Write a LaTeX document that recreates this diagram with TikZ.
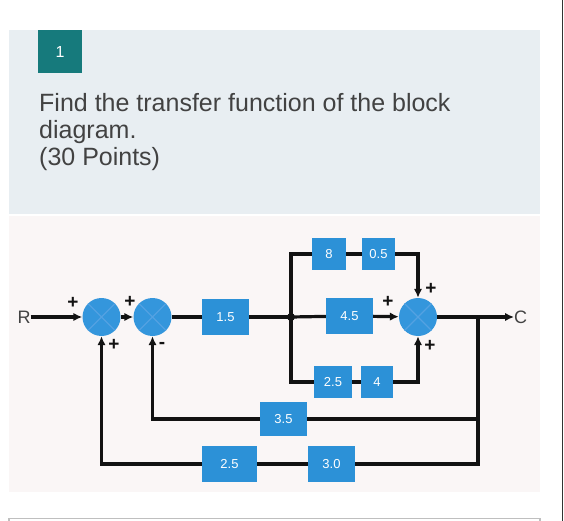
\documentclass[tikz,border=0pt]{standalone}
\usepackage{fontspec}
\setmainfont{Liberation Sans}
\usetikzlibrary{arrows.meta}
\definecolor{cardtop}{RGB}{232,238,242}
\definecolor{cardlow}{RGB}{250,246,246}
\definecolor{badgeteal}{RGB}{22,122,124}
\definecolor{blkblue}{RGB}{44,145,215}
\definecolor{sumblue}{RGB}{52,150,220}
\definecolor{xline}{RGB}{84,162,226}
\definecolor{txtgray}{RGB}{66,66,66}
\definecolor{wirecol}{RGB}{18,18,18}
\begin{document}
\begin{tikzpicture}[x=1pt,y=-1pt,>={Latex[length=9pt,width=8.5pt]},
  blk/.style={fill=blkblue,text=white,inner sep=0,font=\fontsize{13}{13}\selectfont},
  sum/.style={circle,fill=sumblue,minimum size=38pt,inner sep=0,
    path picture={\draw[xline,line width=1.4pt]
      (path picture bounding box.north west)--(path picture bounding box.south east)
      (path picture bounding box.north east)--(path picture bounding box.south west);}},
  wire/.style={line width=3.2pt,draw=wirecol},
  sgn/.style={font=\bfseries\fontsize{19}{19}\selectfont,inner sep=0,text=wirecol},
  lbl/.style={font=\fontsize{18}{18}\selectfont,inner sep=0,text=txtgray}]
\useasboundingbox (0,0) rectangle (564,521);
\fill[white] (0,0) rectangle (564,521);
\fill[cardtop] (9,30) rectangle (540,214);
\fill[cardlow] (9,216) rectangle (540,492);
\draw[black!25,line width=1.5pt] (9,521) -- (9,518.5) -- (540,518.5) -- (540,521);
\draw[black!80,line width=1.5pt] (562.5,0) -- (562.5,521);
\node[fill=badgeteal,text=white,minimum width=44pt,minimum height=43pt,inner sep=0,
  font=\fontsize{16}{16}\selectfont] (num) at (60,51.5) {1};
\node[anchor=base west,inner sep=0,text=txtgray,font=\fontsize{25}{25}\selectfont]
  (q1) at (39,112) {Find the transfer function of the block};
\node[anchor=base west,inner sep=0,text=txtgray,font=\fontsize{25}{25}\selectfont]
  (q2) at (39,139) {diagram.};
\node[anchor=base west,inner sep=0,text=txtgray,font=\fontsize{25}{25}\selectfont]
  (q3) at (39,166) {(30 Points)};

\node[lbl] (R) at (24,317) {R};
\node[sum] (s1) at (101.5,317) {};
\node[sum] (s2) at (152.5,317) {};
\node[blk,minimum width=47pt,minimum height=36pt] (b15) at (225.5,317) {1.5};
\coordinate (br) at (291,317);
\node[blk,minimum width=34pt,minimum height=32pt] (b8) at (329,254) {8};
\node[blk,minimum width=33pt,minimum height=32pt] (b05) at (378.5,254) {0.5};
\node[blk,minimum width=47pt,minimum height=36pt] (b45) at (349.5,316) {4.5};
\node[blk,minimum width=38pt,minimum height=32pt] (b25a) at (333,382) {2.5};
\node[blk,minimum width=32pt,minimum height=32pt] (b4) at (377,382) {4};
\node[sum] (s3) at (418,317) {};
\coordinate (tap) at (478,317);
\node[lbl,anchor=west] (C) at (514,317) {C};
\node[blk,minimum width=47pt,minimum height=34pt] (b35) at (283.5,419) {3.5};
\node[blk,minimum width=47pt,minimum height=36pt] (b30) at (331.5,464) {3.0};
\node[blk,minimum width=55pt,minimum height=36pt] (b25b) at (229.5,464) {2.5};

\draw[wire,->] (R) -- (s1);
\draw[wire,->] (s1) -- (s2);
\draw[wire] (s2) -- (b15);
\draw[wire] (b15) -- (br);
\draw[wire] (br) |- (b8);
\draw[wire] (b8) -- (b05);
\draw[wire,->] (b05) -| (s3);
\draw[wire] (br) -- (b45);
\draw[wire,->] (b45) -- (s3);
\draw[wire] (br) |- (b25a);
\draw[wire] (b25a) -- (b4);
\draw[wire,->] (b4) -| (s3);
\draw[wire,->] (s3) -- (C);
\draw[wire] (tap) |- (b35);
\draw[wire,->] (b35) -| (s2);
\draw[wire] (tap) |- (b30);
\draw[wire] (b30) -- (b25b);
\draw[wire,->] (b25b) -| (s1);
\fill[wirecol] (br) circle (4);

\node[sgn] (p1) at (73,303) {+};
\node[sgn] (p2) at (114,345) {+};
\node[sgn] (p3) at (130,302) {+};
\node[sgn] (p4) at (162,345) {-};
\node[sgn] (p5) at (431,289) {+};
\node[sgn] (p6) at (388,302) {+};
\node[sgn] (p7) at (430,346) {+};
\end{tikzpicture}
\end{document}
